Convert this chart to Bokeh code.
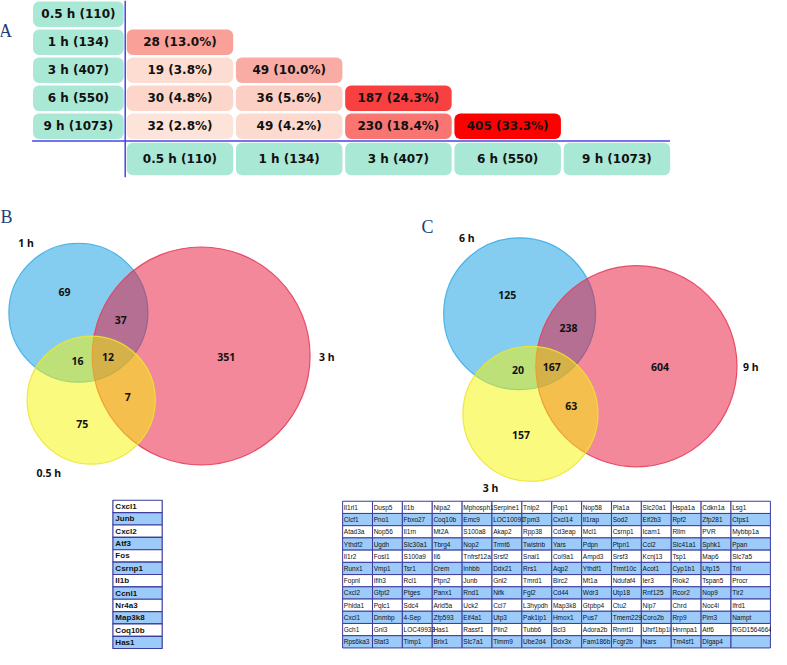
from bokeh.plotting import figure
from bokeh.models import Range1d, ColumnDataSource
from bokeh.core.properties import value
from bokeh.embed import file_html
from bokeh.resources import INLINE

# ------------------------------------------------------------------ data
times = ["0.5 h", "1 h", "3 h", "6 h", "9 h"]
deg_counts = [110, 134, 407, 550, 1073]

ovl_row = ["1 h", "3 h", "3 h", "6 h", "6 h", "6 h", "9 h", "9 h", "9 h", "9 h"]
ovl_col = ["0.5 h", "0.5 h", "1 h", "0.5 h", "1 h", "3 h", "0.5 h", "1 h", "3 h", "6 h"]
ovl_n = [28, 19, 49, 30, 36, 187, 32, 49, 230, 405]
ovl_pct = [13.0, 3.8, 10.0, 4.8, 5.6, 24.3, 2.8, 4.2, 18.4, 33.3]

venn_b_sets = ["1 h", "3 h", "0.5 h"]
venn_b_regions = ["1", "1&3", "1&0.5", "1&3&0.5", "3", "3&0.5", "0.5"]
venn_b_counts = [69, 37, 16, 12, 351, 7, 75]

venn_c_sets = ["6 h", "9 h", "3 h"]
venn_c_regions = ["6", "6&9", "6&3", "6&9&3", "9", "9&3", "3"]
venn_c_counts = [125, 238, 20, 167, 604, 63, 157]

common_genes = ["Cxcl1", "Junb", "Cxcl2", "Atf3", "Fos", "Csrnp1", "Il1b",
                "Ccnl1", "Nr4a3", "Map3k8", "Coq10b", "Has1"]

gene_row_01 = ["Il1rl1", "Dusp5", "Il1b", "Nipa2", "Mphosph1", "Serpine1", "Tnip2", "Pop1", "Nop58", "Pla1a", "Slc20a1", "Hspa1a", "Cdkn1a", "Lsg1"]
gene_row_02 = ["Clcf1", "Pno1", "Fbxo27", "Coq10b", "Emc9", "LOC10091", "Tpm3", "Cxcl14", "Il1rap", "Sod2", "Eif2b3", "Rpf2", "Zfp281", "Ctps1"]
gene_row_03 = ["Atad3a", "Nop56", "Il1rn", "Mt2A", "S100a8", "Akap2", "Rpp38", "Cd3eap", "Mcl1", "Csrnp1", "Icam1", "Rllm", "PVR", "Mybbp1a"]
gene_row_04 = ["Ythdf2", "Ugdh", "Slc30a1", "Tbrg4", "Nop2", "Trmt6", "Twistnb", "Yars", "Pdpn", "Ptpn1", "Ccl2", "Slc41a1", "Sphk1", "Ppan"]
gene_row_05 = ["Il1r2", "Fosl1", "S100a9", "Il6", "Tnfrsf12a", "Srsf2", "Snai1", "Col9a1", "Ampd3", "Srsf3", "Kcnj13", "Tsp1", "Map6", "Slc7a5"]
gene_row_06 = ["Runx1", "Vmp1", "Tsr1", "Crem", "Inhbb", "Ddx21", "Rrs1", "Aqp2", "Ythdf1", "Trmt10c", "Acot1", "Cyp1b1", "Utp15", "Tril"]
gene_row_07 = ["Fopnl", "Ifih3", "Rcl1", "Ptpn2", "Junb", "Gnl2", "Tmrd1", "Birc2", "Mt1a", "Ndufaf4", "Ier3", "Riok2", "Tspan5", "Procr"]
gene_row_08 = ["Cxcl2", "Gfpt2", "Ptges", "Panx1", "Rnd1", "Nifk", "Fgl2", "Cd44", "Wdr3", "Utp18", "Rnf125", "Rcor2", "Nop9", "Tlr2"]
gene_row_09 = ["Phlda1", "Pqlc1", "Sdc4", "Arid5a", "Uck2", "Ccl7", "L3hypdh", "Map3k8", "Gtpbp4", "Ctu2", "Nip7", "Chrd", "Noc4l", "Ifrd1"]
gene_row_10 = ["Cxcl1", "Dnmbp", "4-Sep", "Zfp593", "Eif4a1", "Utp3", "Pak1ip1", "Hmox1", "Pus7", "Tmem229", "Coro2b", "Rrp9", "Pim3", "Nampt"]
gene_row_11 = ["Gch1", "Gnl3", "LOC49933", "Has1", "Rassf1", "Plin2", "Tubb6", "Bcl3", "Adora2b", "Rnmt1l", "Uhrf1bp1l", "Hnrnpa1", "Atf6", "RGD1564664"]
gene_row_12 = ["Rps6ka3", "Stat3", "Timp1", "Brix1", "Slc7a1", "Timm9", "Ube2d4", "Ddx3x", "Fam186b", "Fcgr2b", "Nars", "Tm4sf1", "Dlgap4", ""]
gene_rows = [gene_row_01, gene_row_02, gene_row_03, gene_row_04, gene_row_05, gene_row_06,
             gene_row_07, gene_row_08, gene_row_09, gene_row_10, gene_row_11, gene_row_12]

# ------------------------------------------------------------------ styles
MINT = "#aae8d6"
AXIS_BLUE = "#4646e6"
LETTER = "#1f3e79"
BOLD_FONT = value("DejaVu Sans")
VENN_FONT = value("Noto Sans")
TABLE_FONT = value("Liberation Sans")
heat_stops = [(0.0, (254, 236, 228)), (3.0, (253, 227, 217)), (5.0, (252, 212, 200)),
              (10.0, (248, 172, 163)), (13.0, (249, 160, 152)), (18.4, (248, 117, 114)),
              (24.3, (249, 64, 64)), (33.3, (255, 0, 0))]


def heat(pv):
    for (p0, c0), (p1, c1) in zip(heat_stops[:-1], heat_stops[1:]):
        if pv <= p1:
            t = (pv - p0) / (p1 - p0)
            return "#%02x%02x%02x" % tuple(int(round(a + (b - a) * t)) for a, b in zip(c0, c1))
    return "#ff0000"


p = figure(width=771, height=649, output_backend="svg", toolbar_location=None,
           x_range=Range1d(3, 785), y_range=Range1d(663, 2),
           x_axis_type=None, y_axis_type=None, min_border=0)
p.grid.visible = False
p.outline_line_color = None
p.background_fill_color = "white"

# ------------------------------------------------------------------ panel A
row_top0, row_pitch, row_h = 3.0, 28.5, 26.0
lab_left, lab_right = 36.0, 128.0
col_left0, col_pitch, col_w = 131.0, 110.8, 108.0
bot_top, bot_h = 147.0, 33.0

ridx = {t: i for i, t in enumerate(times)}
lab_text = ["%s (%d)" % (t, n) for t, n in zip(times, deg_counts)]

src = ColumnDataSource(dict(
    l=[lab_left] * 5, r=[lab_right] * 5,
    t=[row_top0 + row_pitch * i for i in range(5)],
    b=[row_top0 + row_pitch * i + row_h for i in range(5)],
    x=[(lab_left + lab_right) / 2] * 5,
    y=[row_top0 + row_pitch * i + row_h / 2 for i in range(5)],
    txt=lab_text))
p.quad(left="l", right="r", top="t", bottom="b", source=src, fill_color=MINT,
       line_color=None, border_radius=6)
p.text(x="x", y="y", text="txt", source=src, text_align="center", text_baseline="middle",
       text_font=BOLD_FONT, text_font_style="bold", text_font_size="12px", text_color="#111111")

src = ColumnDataSource(dict(
    l=[col_left0 + col_pitch * i for i in range(5)],
    r=[col_left0 + col_pitch * i + col_w for i in range(5)],
    t=[bot_top] * 5, b=[bot_top + bot_h] * 5,
    x=[col_left0 + col_pitch * i + col_w / 2 for i in range(5)],
    y=[bot_top + bot_h / 2] * 5, txt=lab_text))
p.quad(left="l", right="r", top="t", bottom="b", source=src, fill_color=MINT,
       line_color=None, border_radius=6)
p.text(x="x", y="y", text="txt", source=src, text_align="center", text_baseline="middle",
       text_font=BOLD_FONT, text_font_style="bold", text_font_size="12px", text_color="#111111")

ri = [ridx[r] for r in ovl_row]
ci = [ridx[c] for c in ovl_col]
src = ColumnDataSource(dict(
    l=[col_left0 + col_pitch * j for j in ci],
    r=[col_left0 + col_pitch * j + col_w for j in ci],
    t=[row_top0 + row_pitch * i for i in ri],
    b=[row_top0 + row_pitch * i + row_h for i in ri],
    x=[col_left0 + col_pitch * j + col_w / 2 for j in ci],
    y=[row_top0 + row_pitch * i + row_h / 2 for i in ri],
    c=[heat(v) for v in ovl_pct],
    txt=["%d (%.1f%%)" % (n, v) for n, v in zip(ovl_n, ovl_pct)]))
p.quad(left="l", right="r", top="t", bottom="b", source=src, fill_color="c",
       line_color=None, border_radius=6)
p.text(x="x", y="y", text="txt", source=src, text_align="center", text_baseline="middle",
       text_font=BOLD_FONT, text_font_style="bold", text_font_size="12px", text_color="#111111")

p.segment(x0=[129.5, 35.0], y0=[2.0, 145.0], x1=[129.5, 682.0], y1=[182.0, 145.0],
          line_color=AXIS_BLUE, line_width=1.5)

p.text(x=[8, 9, 436], y=[33, 222, 233], text=["A", "B", "C"], text_align="center",
       text_baseline="middle", text_font=value("Liberation Serif"), text_font_size="18px",
       text_color=LETTER)

# ------------------------------------------------------------------ Venn diagrams
venn_fill = ["#0a9be1", "#e51135", "#f5f500"]
venn_line = ["#3aaee6", "#e6405c", "#efe430"]


def draw_venn(sets, counts, circles, set_lab_xy, region_xy):
    for (cx, cy, r), fc, lc in zip(circles, venn_fill, venn_line):
        p.circle(x=[cx], y=[cy], radius=r, fill_color=fc, fill_alpha=0.5,
                 line_color=lc, line_alpha=0.9, line_width=1.2)
    p.text(x=[xy[0] for xy in region_xy], y=[xy[1] for xy in region_xy],
           text=[str(c) for c in counts], text_align="center", text_baseline="middle",
           text_font=VENN_FONT, text_font_style="bold", text_font_size="10.5px",
           text_color="#111111")
    p.text(x=[xy[0] for xy in set_lab_xy], y=[xy[1] for xy in set_lab_xy], text=sets,
           text_align="center", text_baseline="middle", text_font=VENN_FONT,
           text_font_style="bold", text_font_size="10.5px", text_color="#111111")


draw_venn(venn_b_sets, venn_b_counts,
          circles=[(82, 320, 70.5), (206.5, 364, 110.5), (95, 409, 65)],
          set_lab_xy=[(29, 249), (334, 365), (52, 483)],
          region_xy=[(68, 299), (125, 327), (81, 369), (112, 365), (232, 365), (132, 406), (86, 433)])

draw_venn(venn_c_sets, venn_c_counts,
          circles=[(529.5, 321, 77), (648, 374.5, 102), (540.5, 423, 68.5)],
          set_lab_xy=[(476, 244), (764, 375), (500, 499)],
          region_xy=[(517, 302), (579, 336), (528, 378), (562, 375), (672, 375), (582, 415), (531, 445)])

# ------------------------------------------------------------------ gene tables
ROW_BLUE = "#9ccbfa"
GRID = "#3c3c9c"

st_left, st_right, st_top, st_rh = 117.0, 167.0, 511.0, 12.6
n = len(common_genes)
src = ColumnDataSource(dict(
    l=[st_left] * n, r=[st_right] * n,
    t=[st_top + st_rh * i for i in range(n)],
    b=[st_top + st_rh * (i + 1) for i in range(n)],
    c=["white" if i % 2 == 0 else ROW_BLUE for i in range(n)],
    x=[st_left + 2.5] * n, y=[st_top + st_rh * (i + 0.5) for i in range(n)],
    txt=common_genes))
p.quad(left="l", right="r", top="t", bottom="b", source=src, fill_color="c",
       line_color=GRID, line_width=1.2)
p.text(x="x", y="y", text="txt", source=src, text_align="left", text_baseline="middle",
       text_font=TABLE_FONT, text_font_style="bold", text_font_size="8px", text_color="#111111")

bt_left, bt_top, bt_rh = 350.0, 512.0, 12.45
col_widths = [30.3] * 13 + [40.0]
col_lefts = [bt_left + sum(col_widths[:j]) for j in range(len(col_widths))]
L, R, T, B, C, X, Y, TX = [], [], [], [], [], [], [], []
for i, row in enumerate(gene_rows):
    for j, g in enumerate(row):
        L.append(col_lefts[j]); R.append(col_lefts[j] + col_widths[j])
        T.append(bt_top + bt_rh * i); B.append(bt_top + bt_rh * (i + 1))
        C.append("white" if i % 2 == 0 else ROW_BLUE)
        X.append(col_lefts[j] + 1.2); Y.append(bt_top + bt_rh * (i + 0.5)); TX.append(g)
src = ColumnDataSource(dict(l=L, r=R, t=T, b=B, c=C, x=X, y=Y, txt=TX))
p.quad(left="l", right="r", top="t", bottom="b", source=src, fill_color="c",
       line_color=GRID, line_width=1.0)
p.text(x="x", y="y", text="txt", source=src, text_align="left", text_baseline="middle",
       text_font=TABLE_FONT, text_font_size="6.5px", text_color="#111111")

open("out.html", "w").write(file_html(p, INLINE))
